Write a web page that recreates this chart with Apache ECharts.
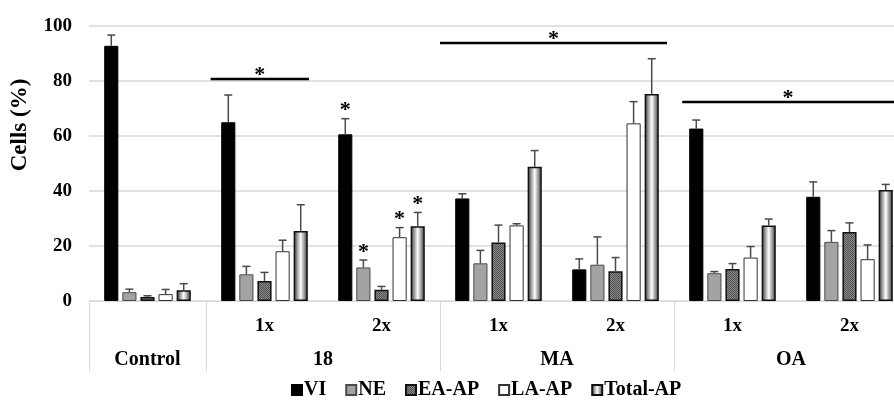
<!DOCTYPE html>
<html>
<head>
<meta charset="utf-8">
<script src="https://cdn.jsdelivr.net/npm/echarts@6/dist/echarts.min.js"></script>
<style>
  html, body { margin: 0; padding: 0; background: #fff; }
  #chart { width: 894px; height: 403px; }
</style>
</head>
<body>
<div id="chart"></div>
<script>
// 分组与剂量标签
const groupNames = ['Control', '18', 'MA', 'OA']
const groupSizes = [1, 2, 2, 2]
const doseLabels = ['', '1x', '2x', '1x', '2x', '1x', '2x']
const seriesNames = ['VI', 'NE', 'EA-AP', 'LA-AP', 'Total-AP']

// 均值（%）
const viMean = [92.8, 65.0, 60.6, 37.3, 11.5, 62.7, 37.9]
const neMean = [3.2, 9.7, 12.2, 13.7, 13.2, 10.1, 21.5]
const eaMean = [1.5, 7.3, 4.1, 21.3, 10.8, 11.6, 25.1]
const laMean = [2.5, 18.1, 23.2, 27.5, 64.6, 15.8, 15.2]
const totalMean = [3.9, 25.5, 27.2, 48.8, 75.3, 27.5, 40.4]

// 误差（%）
const viErr = [3.9, 9.9, 5.7, 1.7, 3.8, 3.1, 5.4]
const neErr = [1.1, 2.9, 2.7, 4.7, 10.1, 0.6, 4.1]
const eaErr = [0.4, 3.1, 1.2, 6.3, 5.0, 2.0, 3.3]
const laErr = [1.7, 4.0, 3.5, 0.6, 7.9, 4.0, 5.2]
const totalErr = [2.4, 9.5, 5.0, 5.9, 12.8, 2.3, 2.0]

// 显著性标记：单柱 [类别, 系列]，横线 [起, 止, y]
const starMarks = [[2, 0], [2, 1], [2, 3], [2, 4]]
const sigLines = [[1.04, 1.88, 80.7], [3.0, 4.94, 93.8], [5.07, 7.0, 72.4]]

const means = [viMean, neMean, eaMean, laMean, totalMean]
const errs = [viErr, neErr, eaErr, laErr, totalErr]

const FONT = 'Liberation Serif'
const CAT_GAP = 0.26
const BAR_GAP = 0.28

/* 纹理填充 */
function makePattern() {
  const c = document.createElement('canvas')
  c.width = 2
  c.height = 2
  const ctx = c.getContext('2d')
  ctx.fillStyle = '#8a8a8a'
  ctx.fillRect(0, 0, 2, 2)
  ctx.fillStyle = '#505050'
  ctx.fillRect(0, 0, 1, 1)
  ctx.fillRect(1, 1, 1, 1)
  return c
}

const barStyles = [
  { color: '#000', borderColor: '#000', borderWidth: 1 },
  { color: '#a3a3a3', borderColor: '#4a4a4a', borderWidth: 1 },
  { color: { image: makePattern(), repeat: 'repeat' }, borderColor: '#111', borderWidth: 1.5 },
  { color: '#fff', borderColor: '#333', borderWidth: 1 },
  {
    color: new echarts.graphic.LinearGradient(0, 0, 1, 0, [
      { offset: 0, color: '#333' },
      { offset: 0.5, color: '#fff' },
      { offset: 1, color: '#333' }
    ]),
    borderColor: '#111',
    borderWidth: 1.5
  }
]

// 分组中心与分隔线位置
const groupCenters = []
const groupTicks = [0]
let acc = 0
groupSizes.forEach(n => {
  groupCenters.push(acc + n / 2)
  acc += n
  groupTicks.push(acc)
})

/* 柱子在类别内的偏移 */
function barOffset(api, s) {
  const band = api.size([1, 0])[0]
  const inner = band * (1 - CAT_GAP)
  const w = inner / (5 + 4 * BAR_GAP)
  return -inner / 2 + s * w * (1 + BAR_GAP) + w / 2
}

const errData = []
means.forEach((arr, s) => {
  arr.forEach((v, i) => errData.push([i, v, errs[s][i], s]))
})

const barSeries = seriesNames.map((name, s) => ({
  name,
  type: 'bar',
  data: means[s],
  barCategoryGap: CAT_GAP * 100 + '%',
  barGap: BAR_GAP * 100 + '%',
  itemStyle: barStyles[s],
  emphasis: { disabled: true },
  z: 2
}))

const myChart = echarts.init(document.getElementById('chart'))

myChart.setOption({
  animation: false,
  textStyle: { fontFamily: FONT },
  grid: { left: 89, right: -14, top: 26, bottom: 102, outerBoundsMode: 'none', containLabel: false },
  legend: {
    data: seriesNames,
    icon: 'rect',
    left: 286,
    top: 375,
    itemWidth: 10,
    itemHeight: 10,
    itemGap: 19,
    textStyle: { fontFamily: FONT, fontWeight: 'bold', fontSize: 20, color: '#000', padding: [0, 0, 0, -3] }
  },
  graphic: [
    {
      type: 'text',
      x: 20,
      y: 125,
      rotation: Math.PI / 2,
      style: {
        text: 'Cells (%)',
        align: 'center',
        verticalAlign: 'middle',
        font: 'bold 23px "Liberation Serif"',
        fill: '#000'
      }
    }
  ],
  xAxis: [
    {
      type: 'category',
      data: doseLabels,
      axisLine: { lineStyle: { color: '#d9d9d9', width: 1 } },
      axisTick: { show: false },
      axisLabel: { fontFamily: FONT, fontWeight: 'bold', fontSize: 19, color: '#000', margin: 16, interval: 0 }
    },
    {
      type: 'value',
      position: 'bottom',
      min: 0,
      max: 7,
      axisLine: { show: false },
      splitLine: { show: false },
      axisTick: {
        show: true,
        customValues: groupTicks,
        length: 70,
        lineStyle: { color: '#d9d9d9', width: 1 }
      },
      axisLabel: {
        customValues: groupCenters,
        formatter: v => groupNames[groupCenters.indexOf(v)] || '',
        fontFamily: FONT,
        fontWeight: 'bold',
        fontSize: 20,
        color: '#000',
        margin: 49
      }
    }
  ],
  yAxis: {
    type: 'value',
    min: 0,
    max: 100,
    interval: 20,
    axisLine: { show: false },
    axisTick: { show: false },
    axisLabel: { fontFamily: FONT, fontWeight: 'bold', fontSize: 19, color: '#000', margin: 17 },
    splitLine: { lineStyle: { color: '#d9d9d9', width: 1.5 } }
  },
  series: [
    ...barSeries,
    {
      name: 'err',
      type: 'custom',
      xAxisIndex: 0,
      data: errData,
      z: 3,
      silent: true,
      renderItem(params, api) {
        const s = api.value(3)
        const off = barOffset(api, s)
        const p0 = api.coord([api.value(0), api.value(1)])
        const p1 = api.coord([api.value(0), api.value(1) + api.value(2)])
        const x = p0[0] + off
        const st = { stroke: '#4a4a4a', lineWidth: 1.5 }
        return {
          type: 'group',
          children: [
            { type: 'line', shape: { x1: x, y1: p0[1], x2: x, y2: p1[1] }, style: st },
            { type: 'line', shape: { x1: x - 4, y1: p1[1], x2: x + 4, y2: p1[1] }, style: st }
          ]
        }
      }
    },
    {
      name: 'stars',
      type: 'custom',
      xAxisIndex: 0,
      data: starMarks,
      z: 4,
      silent: true,
      renderItem(params, api) {
        const i = api.value(0)
        const s = api.value(1)
        const top = means[s][i] + errs[s][i]
        const p = api.coord([i, top])
        return {
          type: 'text',
          style: {
            text: '*',
            x: p[0] + barOffset(api, s),
            y: p[1] - 8,
            align: 'center',
            verticalAlign: 'middle',
            font: 'bold 22px "Liberation Serif"',
            fill: '#000'
          }
        }
      }
    },
    {
      name: 'sig',
      type: 'custom',
      xAxisIndex: 1,
      data: sigLines,
      z: 4,
      silent: true,
      renderItem(params, api) {
        const a = api.coord([api.value(0), api.value(2)])
        const b = api.coord([api.value(1), api.value(2)])
        return {
          type: 'group',
          children: [
            { type: 'line', shape: { x1: a[0], y1: a[1], x2: b[0], y2: b[1] }, style: { stroke: '#000', lineWidth: 2.5 } },
            {
              type: 'text',
              style: {
                text: '*',
                x: (a[0] + Math.min(b[0], 894)) / 2,
                y: a[1] - 4,
                align: 'center',
                verticalAlign: 'middle',
                font: 'bold 22px "Liberation Serif"',
                fill: '#000'
              }
            }
          ]
        }
      }
    }
  ]
})
</script>
</body>
</html>
